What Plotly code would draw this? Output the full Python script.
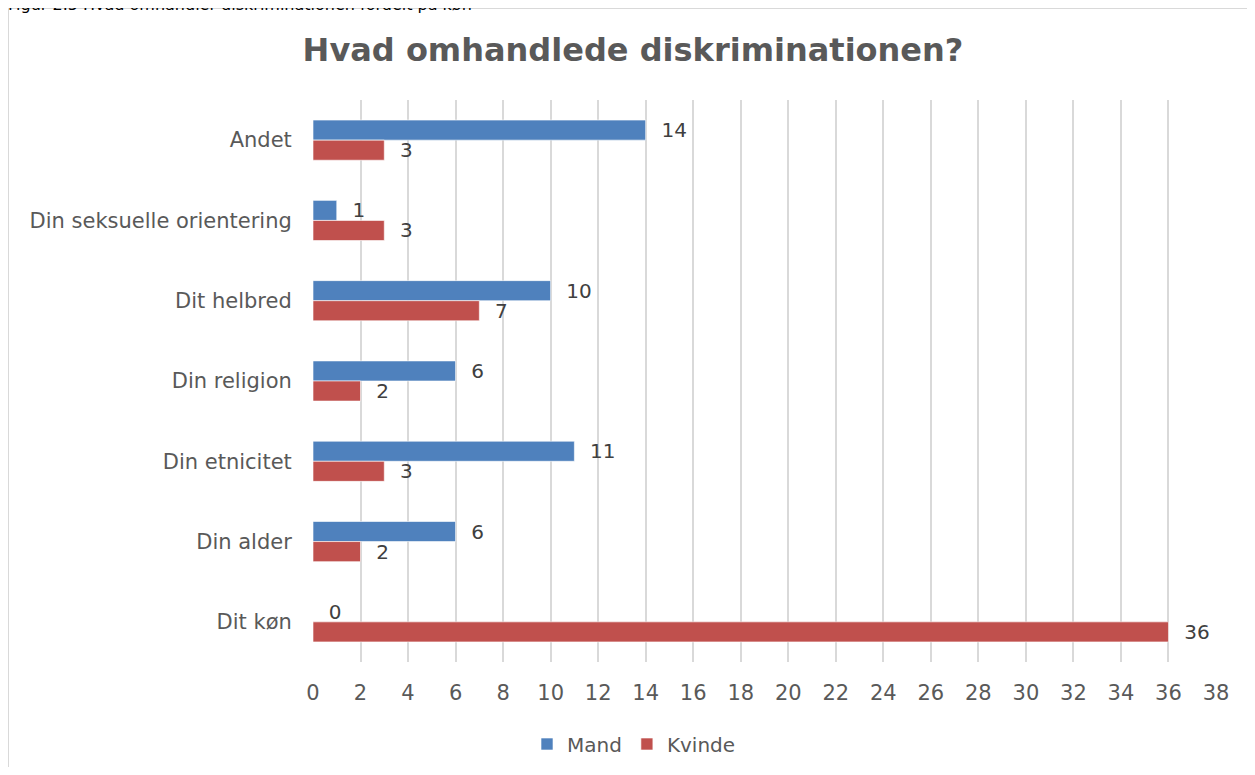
import plotly.graph_objects as go

categories = ["Andet", "Din seksuelle orientering", "Dit helbred", "Din religion",
              "Din etnicitet", "Din alder", "Dit køn"]
mand = [14, 1, 10, 6, 11, 6, 0]
kvinde = [3, 3, 7, 2, 3, 2, 36]
x_ticks = list(range(0, 40, 2))

FONT = "DejaVu Sans"
W, H = 1239, 759
L, R, T, B = 305, 31, 92, 105
PW, PH = W - L - R, H - T - B

fig = go.Figure()
for name, vals, col in [("Mand", mand, "#4F81BD"), ("Kvinde", kvinde, "#C0504D")]:
    fig.add_trace(go.Bar(
        y=categories, x=vals, name=name, orientation="h",
        marker=dict(color=col, line=dict(color="rgba(255,255,255,0.6)", width=1)),
        text=vals, texttemplate="  %{x}", textposition="outside", cliponaxis=False,
        constraintext="none",
        textfont=dict(family=FONT, size=20, color="#404040"),
    ))

fig.update_layout(
    width=W, height=H,
    paper_bgcolor="white", plot_bgcolor="white",
    margin=dict(l=L, r=R, t=T, b=B),
    barmode="group", bargap=0.5, bargroupgap=0,
    font=dict(family=FONT, size=21, color="#595959"),
    title=dict(text="<b>Hvad omhandlede diskriminationen?</b>",
               x=(633 - 8) / W, xref="container", xanchor="center",
               y=1 - 42 / H, yref="container", yanchor="middle",
               font=dict(family=FONT, size=32, color="#595959")),
    xaxis=dict(range=[0, 38], tickvals=x_ticks, showgrid=True,
               gridcolor="#D9D9D9", gridwidth=1.5, zeroline=False,
               showline=False, ticks="outside", ticklen=12,
               tickcolor="rgba(0,0,0,0)",
               tickfont=dict(family=FONT, size=21, color="#595959")),
    yaxis=dict(autorange="reversed", showgrid=False, zeroline=False,
               showline=False, ticks="outside", ticklen=16,
               tickcolor="rgba(0,0,0,0)",
               tickfont=dict(family=FONT, size=21, color="#595959")),
    legend=dict(orientation="h", x=(634 - 8) / W, xref="container", xanchor="center",
                y=1 - 736 / H, yref="container", yanchor="middle",
                font=dict(family=FONT, size=20, color="#595959"),
                itemwidth=30, traceorder="normal"),
    showlegend=True,
    shapes=[dict(type="rect", xref="paper", yref="paper",
                 x0=(0.5 - L) / PW, x1=1.2, y0=-0.5, y1=(PH + T - 0.5) / PH,
                 line=dict(color="#D9D9D9", width=1), fillcolor="rgba(0,0,0,0)",
                 layer="below")],
    annotations=[dict(text="Figur 2.5 Hvad omhandler diskriminationen fordelt på køn",
                      xref="paper", yref="paper", x=(-2 - L) / PW,
                      y=(PH + T + 3) / PH, xanchor="left", yanchor="middle",
                      showarrow=False,
                      font=dict(family=FONT, size=16, color="#000000"))],
)

fig.write_html("out.html")
